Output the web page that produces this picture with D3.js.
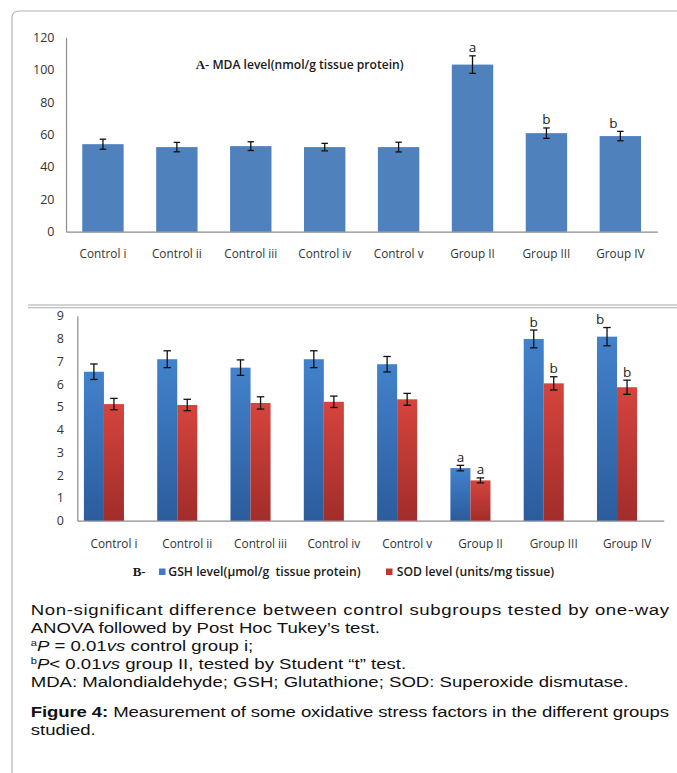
<!DOCTYPE html>
<html>
<head>
<meta charset="utf-8">
<script src="https://cdn.jsdelivr.net/npm/d3@7"></script>
<style>
  body { margin: 0; background: #fff; }
  svg { display: block; }
</style>
</head>
<body>
<script>
// ---- data -------------------------------------------------------------
const categories = ["Control i", "Control ii", "Control iii", "Control iv", "Control v", "Group II", "Group III", "Group IV"];

// Panel A: MDA (nmol/g tissue protein)
const mdaValues = [54.0, 52.2, 52.8, 52.2, 52.2, 103.1, 60.8, 59.0];
const mdaErrors = [3.1, 2.9, 2.7, 2.3, 3.0, 5.4, 3.2, 2.9];
const mdaMarks  = ["", "", "", "", "", "a", "b", "b"];
const mdaTicks  = [0, 20, 40, 60, 80, 100, 120];

// Panel B: GSH (µmol/g tissue protein) and SOD (units/mg tissue)
const gshValues = [6.54, 7.09, 6.72, 7.09, 6.87, 2.31, 7.98, 8.08];
const gshErrors = [0.34, 0.37, 0.34, 0.37, 0.34, 0.12, 0.39, 0.40];
const gshMarks  = ["", "", "", "", "", "a", "b", "b"];
const sodValues = [5.12, 5.08, 5.17, 5.22, 5.33, 1.77, 6.03, 5.86];
const sodErrors = [0.25, 0.25, 0.27, 0.25, 0.26, 0.11, 0.29, 0.31];
const sodMarks  = ["", "", "", "", "", "a", "b", "b"];
const enzymeTicks = [0, 1, 2, 3, 4, 5, 6, 7, 8, 9];

// ---- page ---------------------------------------------------------------
const W = 677, H = 773;
const chartFont = "'Open Sans', 'Noto Sans', sans-serif";
const serifFont = "'Liberation Serif', 'DejaVu Serif', serif";
const axisGrey = "#8c8c8c";
const labelInk = "#333";

const svg = d3.select("body").append("svg")
  .attr("width", W).attr("height", H)
  .attr("viewBox", `0 0 ${W} ${H}`);

svg.append("rect").attr("width", W).attr("height", H).attr("fill", "#fff");

const defs = svg.append("defs");
function vGradient(id, top, bottom) {
  const g = defs.append("linearGradient").attr("id", id)
    .attr("x1", 0).attr("y1", 0).attr("x2", 0).attr("y2", 1);
  g.append("stop").attr("offset", "0%").attr("stop-color", top);
  g.append("stop").attr("offset", "100%").attr("stop-color", bottom);
}
vGradient("gshFill", "#4282cc", "#2c5c9c");
vGradient("sodFill", "#d6443d", "#a12d2a");

// figure frame (rounded top-left corner) and the rule between panels
svg.append("path")
  .attr("d", `M12,${H} V18 Q12,11 19,11 H${W}`)
  .attr("fill", "none").attr("stroke", "#b4b4b4").attr("stroke-width", 1.2);
[305, 307.8].forEach(y => {
  svg.append("line").attr("x1", 28).attr("x2", W).attr("y1", y).attr("y2", y)
    .attr("stroke", "#a8a8a8").attr("stroke-width", 1.1);
});

// ---- shared helpers --------------------------------------------------------
function errorBar(g, cx, yScale, v, e, cap) {
  const top = yScale(v + e), bot = yScale(v - e);
  g.append("line").attr("x1", cx).attr("x2", cx).attr("y1", top).attr("y2", bot);
  g.append("line").attr("x1", cx - cap / 2).attr("x2", cx + cap / 2).attr("y1", top).attr("y2", top);
  g.append("line").attr("x1", cx - cap / 2).attr("x2", cx + cap / 2).attr("y1", bot).attr("y2", bot);
}
function styleAxis(g) {
  g.select(".domain").attr("stroke", axisGrey).attr("stroke-width", 1.2);
  g.selectAll("text").attr("fill", labelInk).attr("font-family", chartFont);
}
// the Group IV letters sit a little left of their bars
const markNudge = { "Group IV": -7 };

// ---- Panel A: MDA -----------------------------------------------------------
const xA = d3.scaleBand().domain(categories).range([66, 657.3])
  .paddingInner(0.44).paddingOuter(0.22);
const yA = d3.scaleLinear().domain([0, 120]).range([231.7, 37.2]);

const panelA = svg.append("g");

panelA.append("g").attr("transform", `translate(${xA.range()[0]},0)`)
  .call(d3.axisLeft(yA).tickValues(mdaTicks).tickSize(0).tickPadding(11.5))
  .call(styleAxis)
  .call(g => g.selectAll("text").attr("font-size", 12.5));

panelA.append("g").attr("transform", `translate(0,${yA(0)})`)
  .call(d3.axisBottom(xA).tickSize(0))
  .call(styleAxis)
  .call(g => g.selectAll("text").attr("font-size", 11.8)
    .attr("y", 254 - yA(0)).attr("dy", "0.35em"));

panelA.append("g").selectAll("rect")
  .data(categories).join("rect")
  .attr("x", c => xA(c))
  .attr("width", xA.bandwidth())
  .attr("y", (c, i) => yA(mdaValues[i]))
  .attr("height", (c, i) => yA(0) - yA(mdaValues[i]))
  .attr("fill", "#4f81bd");

const errA = panelA.append("g").attr("stroke", "#111").attr("stroke-width", 1.3);
categories.forEach((c, i) => {
  errorBar(errA, xA(c) + xA.bandwidth() / 2, yA, mdaValues[i], mdaErrors[i], 6.5);
});

panelA.append("g").selectAll("text")
  .data(categories.map((c, i) => ({ c, i })).filter(d => mdaMarks[d.i]))
  .join("text")
  .attr("x", d => xA(d.c) + xA.bandwidth() / 2 + (markNudge[d.c] || 0))
  .attr("y", d => yA(mdaValues[d.i] + mdaErrors[d.i]) - 3.5)
  .attr("text-anchor", "middle")
  .attr("font-family", chartFont).attr("font-size", 13.5).attr("fill", "#222")
  .text(d => mdaMarks[d.i]);

const titleA = panelA.append("text")
  .attr("x", 195.7).attr("y", 63).attr("dy", "0.35em")
  .attr("fill", "#1a1a1a");
titleA.append("tspan").attr("font-family", serifFont).attr("font-weight", "bold")
  .attr("font-size", 13).text("A-");
titleA.append("tspan").attr("font-family", chartFont).attr("font-weight", 600)
  .attr("font-size", 12.1).attr("dx", 3).text("MDA level(nmol/g tissue protein)");

// ---- Panel B: GSH and SOD -----------------------------------------------------
const xB = d3.scaleBand().domain(categories).range([77.3, 663.7])
  .paddingInner(0.18).paddingOuter(0.09);
// three slots per group; the third stays empty, pushing the pair left
const slot = d3.scaleBand().domain(["GSH", "SOD", "blank"]).range([0, xB.bandwidth()]);
const yB = d3.scaleLinear().domain([0, 9]).range([520.7, 315.7]);

const panelB = svg.append("g");

panelB.append("g").attr("transform", `translate(${xB.range()[0]},0)`)
  .call(d3.axisLeft(yB).tickValues(enzymeTicks).tickSize(0).tickPadding(13.5))
  .call(styleAxis)
  .call(g => g.selectAll("text").attr("font-size", 12.5));

panelB.append("g").attr("transform", `translate(0,${yB(0)})`)
  .call(d3.axisBottom(xB).tickSize(0))
  .call(styleAxis)
  .call(g => g.selectAll("text").attr("font-size", 11.8)
    .attr("y", 544 - yB(0)).attr("dy", "0.35em"));

const seriesB = [
  { key: "GSH", values: gshValues, errors: gshErrors, marks: gshMarks, fill: "url(#gshFill)" },
  { key: "SOD", values: sodValues, errors: sodErrors, marks: sodMarks, fill: "url(#sodFill)" }
];

seriesB.forEach(s => {
  panelB.append("g").selectAll("rect")
    .data(categories).join("rect")
    .attr("x", c => xB(c) + slot(s.key))
    .attr("width", slot.bandwidth())
    .attr("y", (c, i) => yB(s.values[i]))
    .attr("height", (c, i) => yB(0) - yB(s.values[i]))
    .attr("fill", s.fill);
});

const errB = panelB.append("g").attr("stroke", "#111").attr("stroke-width", 1.3);
seriesB.forEach(s => {
  categories.forEach((c, i) => {
    errorBar(errB, xB(c) + slot(s.key) + slot.bandwidth() / 2, yB, s.values[i], s.errors[i], 7.5);
  });
});

seriesB.forEach(s => {
  panelB.append("g").selectAll("text")
    .data(categories.map((c, i) => ({ c, i })).filter(d => s.marks[d.i]))
    .join("text")
    .attr("x", d => xB(d.c) + slot(s.key) + slot.bandwidth() / 2 +
      (s.key === "GSH" ? (markNudge[d.c] || 0) : 0))
    .attr("y", d => yB(s.values[d.i] + s.errors[d.i]) - 3.5)
    .attr("text-anchor", "middle")
    .attr("font-family", chartFont).attr("font-size", 13.5).attr("fill", "#222")
    .text(d => s.marks[d.i]);
});

// legend
const legend = panelB.append("g").attr("fill", "#1a1a1a");
legend.append("text").attr("x", 132.7).attr("y", 571.7).attr("dy", "0.35em")
  .attr("font-family", serifFont).attr("font-weight", "bold").attr("font-size", 13).text("B-");
legend.append("rect").attr("x", 159).attr("y", 568.5).attr("width", 6.5).attr("height", 6.5)
  .attr("fill", "#3f7ac3");
legend.append("text").attr("x", 168.3).attr("y", 571.7).attr("dy", "0.35em")
  .attr("font-family", chartFont).attr("font-weight", 600).attr("font-size", 12.2)
  .style("white-space", "pre")
  .text("GSH level(µmol/g  tissue protein)");
legend.append("rect").attr("x", 386).attr("y", 568.5).attr("width", 6.5).attr("height", 6.5)
  .attr("fill", "#c0362f");
legend.append("text").attr("x", 396.7).attr("y", 571.7).attr("dy", "0.35em")
  .attr("font-family", chartFont).attr("font-weight", 600).attr("font-size", 12.2)
  .text("SOD level (units/mg tissue)");

// ---- caption ---------------------------------------------------------------------
const capStretch = 1.24;
const capLeft = 30.7, capRight = 669;
const caption = svg.append("g")
  .attr("transform", `translate(${capLeft},0) scale(${capStretch},1)`)
  .attr("font-family", "'Liberation Sans', Arial, sans-serif")
  .attr("font-size", 15).attr("fill", "#111");

function capLine(y, parts, justify) {
  const t = caption.append("text").attr("x", 0).attr("y", y);
  if (justify) t.attr("textLength", (capRight - capLeft) / capStretch).attr("lengthAdjust", "spacing");
  parts.forEach(p => {
    const s = t.append("tspan").text(p.text);
    if (p.italic) s.attr("font-style", "italic");
    if (p.bold) s.attr("font-weight", "bold");
    if (p.sup) s.attr("font-size", 9).attr("dy", -5);
    if (p.after) s.attr("dy", 5);
  });
  return t;
}
capLine(615, [{ text: "Non-significant difference between control subgroups tested by one-way" }], true);
capLine(633, [{ text: "ANOVA followed by Post Hoc Tukey\u2019s test." }]);
capLine(651, [{ text: "a", sup: true }, { text: "P", italic: true, after: true }, { text: " = 0.01" },
  { text: "vs", italic: true }, { text: " control group i;" }]);
capLine(669, [{ text: "b", sup: true }, { text: "P", italic: true, after: true }, { text: "< 0.01" },
  { text: "vs", italic: true }, { text: " group II, tested by Student \u201ct\u201d test." }]);
capLine(687, [{ text: "MDA: Malondialdehyde; GSH; Glutathione; SOD: Superoxide dismutase." }]);
capLine(717, [{ text: "Figure 4:", bold: true },
  { text: " Measurement of some oxidative stress factors in the different groups" }], true);
capLine(735.5, [{ text: "studied." }]);
</script>
</body>
</html>
